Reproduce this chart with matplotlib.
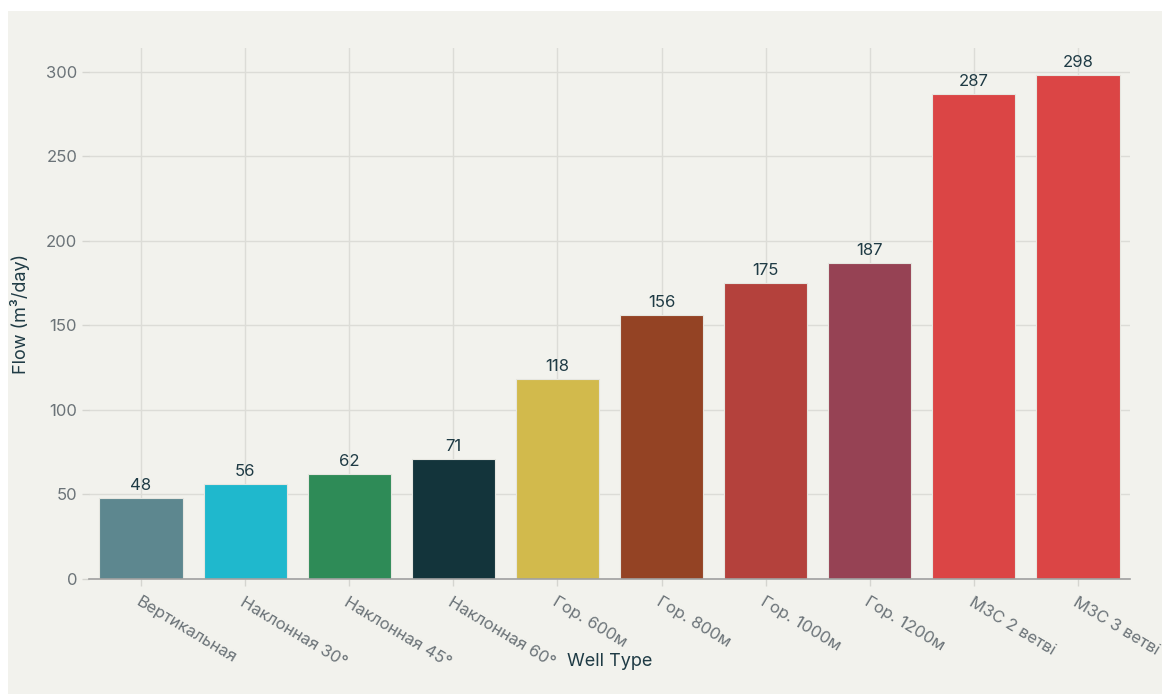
import matplotlib
matplotlib.use("Agg")
import matplotlib.pyplot as plt
from matplotlib.patches import Rectangle

categories = ["Вертикальная", "Наклонная 30°", "Наклонная 45°", "Наклонная 60°",
              "Гор. 600м", "Гор. 800м", "Гор. 1000м", "Гор. 1200м",
              "МЗС 2 ветві", "МЗС 3 ветві"]
flow = [48, 56, 62, 71, 118, 156, 175, 187, 287, 298]
colors = ["#5d878f", "#1fb8cd", "#2e8b57", "#13343b", "#d2ba4c",
          "#944324", "#b4413c", "#964254", "#db4545", "#db4545"]
yticks = [0, 50, 100, 150, 200, 250, 300]

plt.rcParams['font.family'] = ['Inter', 'DejaVu Sans']

fig = plt.figure(figsize=(11.62, 6.94), dpi=100)
fig.patch.set_facecolor("white")
fig.patches.append(Rectangle((8/1162, 0), 1 - 8/1162, 1 - 11/694,
                             transform=fig.transFigure, facecolor="#f2f2ed",
                             edgecolor="none", zorder=-10))

ax = fig.add_axes([89/1162, 1 - 579/694, (1130-89)/1162, (579-48)/694])
ax.set_facecolor("none")

x = list(range(len(categories)))
bars = ax.bar(x, flow, width=0.8, color=colors, edgecolor="#e6e6e0",
              linewidth=0.8, zorder=3)
for xi, v in zip(x, flow):
    ax.text(xi, v + 3, str(v), ha="center", va="bottom", fontsize=12,
            color="#1f3b45", zorder=4)

ax.set_xlim(-0.5, len(categories) - 0.5)
ax.set_ylim(0, 314)
ax.set_yticks(yticks)
ax.set_xticks(x)
ax.set_xticklabels(categories, rotation=-31, ha="left", rotation_mode="anchor",
                   fontsize=12, color="#6b7378")
ax.tick_params(axis="y", labelsize=12, labelcolor="#6b7378", color="#d5d5d0",
               length=5, width=1)
ax.tick_params(axis="x", color="#d5d5d0", length=5, width=1, pad=6)

ax.grid(True, color="#dcdcd7", linewidth=1, zorder=0)
ax.set_axisbelow(True)
for s in ["top", "right", "left"]:
    ax.spines[s].set_visible(False)
ax.spines["bottom"].set_color("#a0a0a0")
ax.spines["bottom"].set_linewidth(1.2)
ax.spines["bottom"].set_zorder(5)

ax.set_xlabel("Well Type", fontsize=13, color="#1f3b45")
ax.set_ylabel("Flow (m³/day)", fontsize=13, color="#1f3b45")
ax.xaxis.set_label_coords(0.5, (579 - 662) / 531)
ax.xaxis.label.set_va("center")
ax.yaxis.set_label_coords((20 - 89) / 1041, 0.5)
ax.yaxis.label.set_va("center")

fig.savefig("out.png", dpi=100, facecolor=fig.get_facecolor())
